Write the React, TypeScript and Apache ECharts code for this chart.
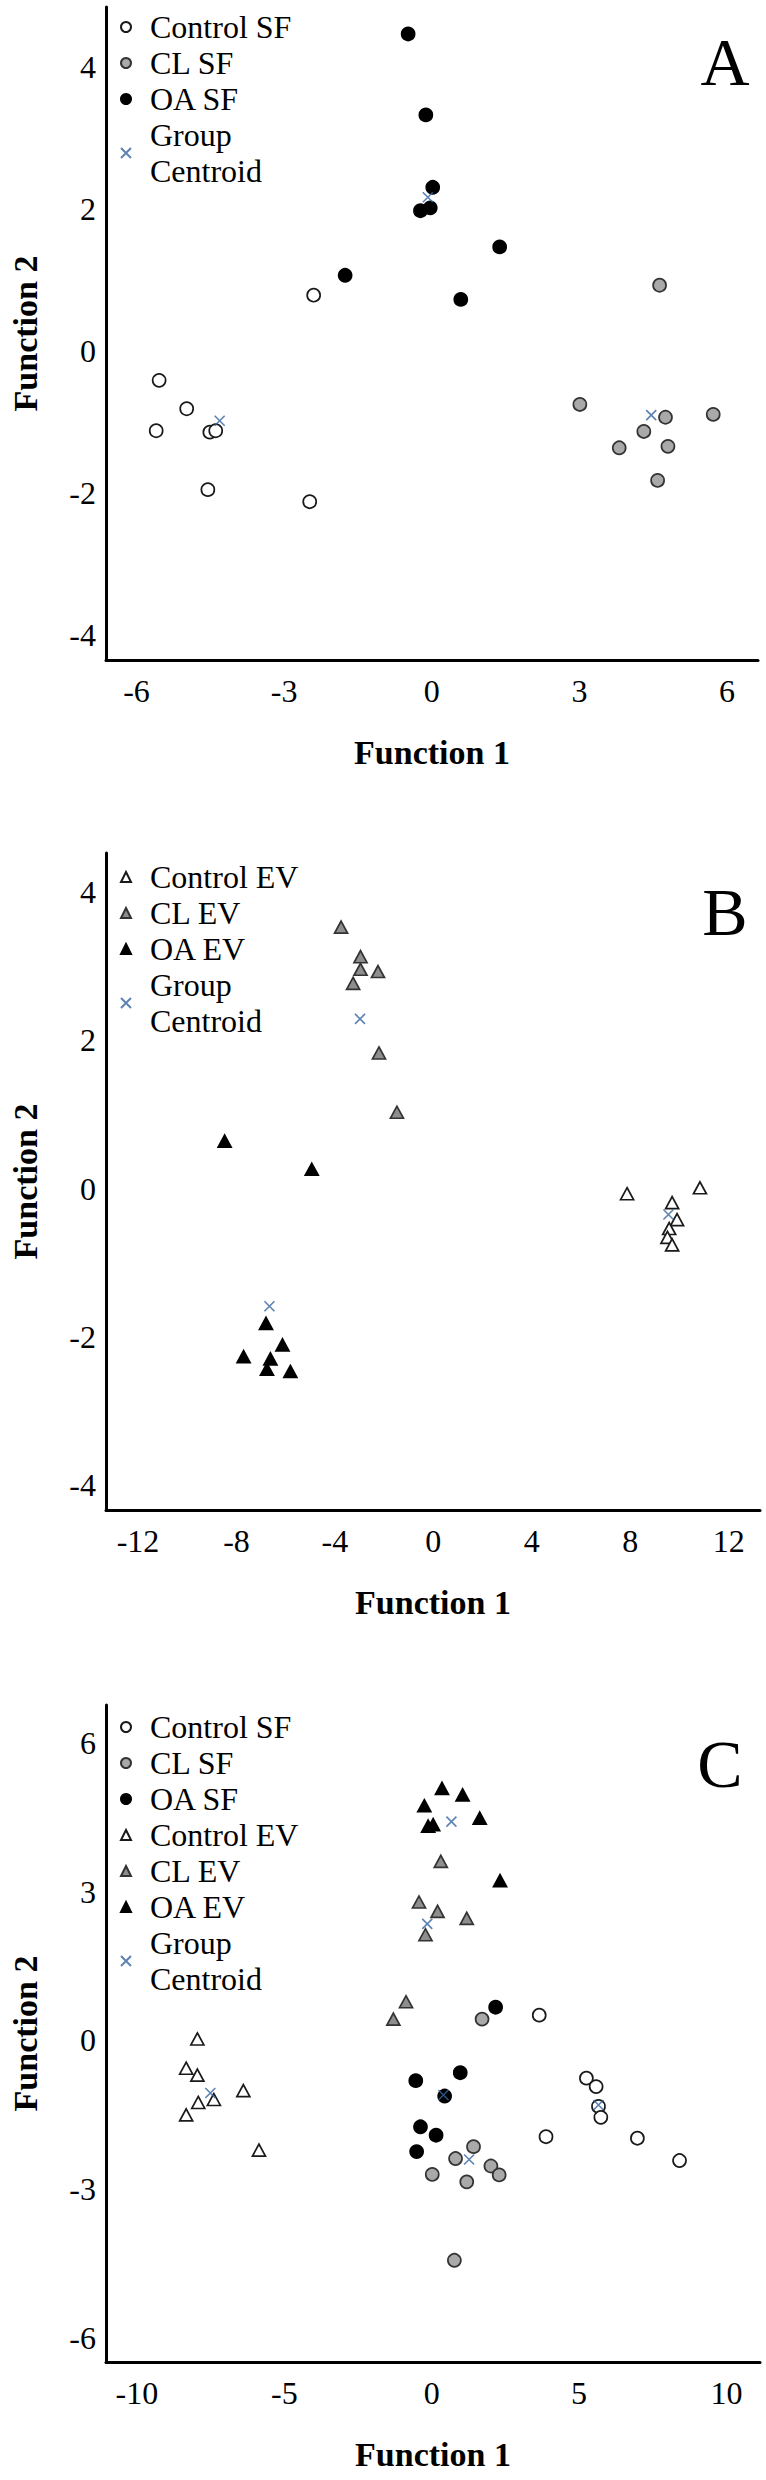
import React, { useEffect, useRef } from "react";
import * as echarts from "echarts";

type Pt = [number, number];

// ---------- Panel A (SF) ----------
const aControlSF: Pt[] = [
  [-2.4, 0.79], [-5.54, -0.41], [-4.98, -0.81], [-5.6, -1.12],
  [-4.51, -1.14], [-4.39, -1.12], [-4.55, -1.95], [-2.48, -2.12],
];
const aCLSF: Pt[] = [
  [4.63, 0.93], [3.01, -0.75], [4.75, -0.93], [5.72, -0.89],
  [4.31, -1.13], [3.81, -1.36], [4.8, -1.34], [4.59, -1.82],
];
const aOASF: Pt[] = [
  [-0.48, 4.47], [-0.12, 3.33], [0.02, 2.31], [-0.23, 1.98],
  [-0.03, 2.02], [1.38, 1.47], [-1.76, 1.07], [0.59, 0.73],
];
const aCentroids: Pt[] = [[-4.31, -0.98], [4.46, -0.9], [-0.08, 2.17]];
const aTicksX = [-6, -3, 0, 3, 6];
const aTicksY = [-4, -2, 0, 2, 4];

// ---------- Panel B (EV) ----------
const bControlEV: Pt[] = [
  [7.87, -0.07], [10.83, 0.01], [9.7, -0.19], [9.9, -0.42],
  [9.58, -0.54], [9.51, -0.66], [9.7, -0.76],
];
const bCLEV: Pt[] = [
  [-3.75, 3.53], [-2.96, 3.13], [-2.96, 2.96], [-2.25, 2.93],
  [-3.26, 2.77], [-2.21, 1.83], [-1.48, 1.03],
];
const bOAEV: Pt[] = [
  [-8.48, 0.64], [-4.94, 0.26], [-6.8, -1.82], [-6.13, -2.11],
  [-7.71, -2.27], [-6.62, -2.3], [-6.76, -2.44], [-5.81, -2.47],
];
const bCentroids: Pt[] = [[9.55, -0.35], [-2.98, 2.29], [-6.66, -1.59]];
const bTicksX = [-12, -8, -4, 0, 4, 8, 12];
const bTicksY = [-4, -2, 0, 2, 4];

// ---------- Panel C (SF + EV) ----------
const cControlSF: Pt[] = [
  [3.65, 0.51], [5.25, -0.76], [5.58, -0.93], [5.66, -1.33],
  [5.74, -1.55], [3.88, -1.94], [6.98, -1.97], [8.41, -2.42],
];
const cCLSF: Pt[] = [
  [1.71, 0.43], [1.42, -2.14], [0.81, -2.38], [2.01, -2.53],
  [2.29, -2.71], [0.02, -2.7], [1.19, -2.85], [0.77, -4.43],
];
const cOASF: Pt[] = [
  [2.17, 0.67], [-0.54, -0.81], [0.97, -0.65], [0.44, -1.12],
  [-0.38, -1.74], [0.15, -1.91], [-0.51, -2.24],
];
const cControlEV: Pt[] = [
  [-7.95, 0.03], [-8.33, -0.56], [-7.95, -0.7], [-6.39, -1.01],
  [-7.39, -1.19], [-7.92, -1.25], [-8.33, -1.5], [-5.86, -2.21],
];
const cCLEV: Pt[] = [
  [0.31, 3.61], [-0.43, 2.79], [0.2, 2.6], [1.19, 2.46],
  [-0.21, 2.13], [-0.87, 0.78], [-1.3, 0.43],
];
const cOAEV: Pt[] = [
  [0.35, 5.08], [1.05, 4.95], [-0.25, 4.73], [1.63, 4.48],
  [-0.12, 4.32], [0.05, 4.35], [2.32, 3.22],
];
const cCentroids: Pt[] = [
  [5.66, -1.3], [1.27, -2.4], [0.4, -1.1],
  [-7.51, -1.06], [-0.15, 2.35], [0.67, 4.41],
];
const cTicksX = [-10, -5, 0, 5, 10];
const cTicksY = [-6, -3, 0, 3, 6];

const legendA = ["Control SF", "CL SF", "OA SF", "Group Centroid"];
const legendB = ["Control EV", "CL EV", "OA EV", "Group Centroid"];
const legendC = ["Control SF", "CL SF", "OA SF", "Control EV", "CL EV", "OA EV", "Group Centroid"];

const FONT = "Liberation Serif";

const STY: Record<string, any> = {
  "Control SF": { symbol: "circle", size: 13, color: "#ffffff", border: "#1a1a1a" },
  "CL SF": { symbol: "circle", size: 13, color: "#a9a9a9", border: "#333333" },
  "OA SF": { symbol: "circle", size: 13, color: "#000000", border: "#000000" },
  "Control EV": { symbol: "triangle", size: [13, 12], color: "#ffffff", border: "#1a1a1a" },
  "CL EV": { symbol: "triangle", size: [13, 12], color: "#8e8e8e", border: "#333333" },
  "OA EV": { symbol: "triangle", size: [13, 12], color: "#000000", border: "#000000" },
};

const CROSS = "path://M0,0L10,10M10,0L0,10";

function scatter(name: string, data: Pt[], gi: number) {
  const s = STY[name];
  return {
    type: "scatter",
    name,
    data,
    xAxisIndex: gi,
    yAxisIndex: gi,
    symbol: s.symbol,
    symbolSize: s.size,
    itemStyle: { color: s.color, borderColor: s.border, borderWidth: 1.7, opacity: 1 },
    z: 2,
  };
}

function centroid(data: Pt[], gi: number) {
  return {
    type: "scatter",
    name: "Group Centroid",
    data,
    xAxisIndex: gi,
    yAxisIndex: gi,
    symbol: CROSS,
    symbolSize: 10,
    itemStyle: { color: "rgba(0,0,0,0)", borderColor: "#33649e", borderWidth: 1.6 },
    z: 3,
  };
}

function xAxis(gi: number, min: number, max: number, ticks: number[]) {
  return {
    type: "value",
    gridIndex: gi,
    min,
    max,
    name: "Function 1",
    nameLocation: "middle",
    nameGap: 75,
    nameTextStyle: { fontFamily: FONT, fontSize: 34, fontWeight: "bold", color: "#000" },
    axisLine: { show: true, onZero: false, lineStyle: { color: "#000", width: 3 } },
    axisTick: { show: false },
    splitLine: { show: false },
    axisLabel: { customValues: ticks, fontFamily: FONT, fontSize: 32, color: "#000", margin: 15 },
  };
}

function yAxis(gi: number, min: number, max: number, ticks: number[]) {
  return {
    type: "value",
    gridIndex: gi,
    min,
    max,
    name: "Function 2",
    nameLocation: "middle",
    nameGap: 64,
    nameTextStyle: { fontFamily: FONT, fontSize: 34, fontWeight: "bold", color: "#000" },
    axisLine: { show: true, onZero: false, lineStyle: { color: "#000", width: 3 } },
    axisTick: { show: false },
    splitLine: { show: false },
    axisLabel: { customValues: ticks, fontFamily: FONT, fontSize: 32, color: "#000", margin: 10 },
  };
}

function legend(data: string[], top: number) {
  return {
    data,
    orient: "vertical",
    left: 120,
    top,
    padding: 0,
    itemWidth: 10,
    itemHeight: 10,
    itemGap: 0,
    selectedMode: false,
    formatter: (n: string) => (n === "Group Centroid" ? "Group\nCentroid" : n),
    textStyle: {
      fontFamily: FONT,
      fontSize: 32,
      lineHeight: 36,
      color: "#000",
      padding: [0, 0, 0, 14],
    },
  };
}

function panelLetter(text: string, x: number, y: number) {
  return {
    type: "text",
    x,
    y,
    style: {
      text,
      fontFamily: FONT,
      fontSize: 68,
      fill: "#000",
      align: "center",
      verticalAlign: "middle",
    },
  };
}

export default function App() {
  const ref = useRef<HTMLDivElement>(null);
  useEffect(() => {
    if (!ref.current) return;
    const chart = echarts.init(ref.current, null, { renderer: "svg" });
    chart.setOption({
      animation: false,
      backgroundColor: "#ffffff",
      textStyle: { fontFamily: FONT },
      grid: [
        { left: 103, top: 7, width: 655, height: 653 },
        { left: 105, top: 853, width: 655, height: 657 },
        { left: 103, top: 1705, width: 657, height: 657 },
      ],
      xAxis: [
        xAxis(0, -6.62, 6.63, aTicksX),
        xAxis(1, -13.3, 13.27, bTicksX),
        xAxis(2, -11.05, 11.14, cTicksX),
      ],
      yAxis: [
        yAxis(0, -4.35, 4.85, aTicksY),
        yAxis(1, -4.34, 4.53, bTicksY),
        yAxis(2, -6.48, 6.76, cTicksY),
      ],
      legend: [legend(legendA, 9), legend(legendB, 859), legend(legendC, 1709)],
      graphic: [
        panelLetter("A", 725, 62),
        panelLetter("B", 725, 912),
        panelLetter("C", 720, 1764),
      ],
      series: [
        scatter("Control SF", aControlSF, 0),
        scatter("CL SF", aCLSF, 0),
        scatter("OA SF", aOASF, 0),
        centroid(aCentroids, 0),
        scatter("Control EV", bControlEV, 1),
        scatter("CL EV", bCLEV, 1),
        scatter("OA EV", bOAEV, 1),
        centroid(bCentroids, 1),
        scatter("Control SF", cControlSF, 2),
        scatter("CL SF", cCLSF, 2),
        scatter("OA SF", cOASF, 2),
        scatter("Control EV", cControlEV, 2),
        scatter("CL EV", cCLEV, 2),
        scatter("OA EV", cOAEV, 2),
        centroid(cCentroids, 2),
      ],
    });
    return () => chart.dispose();
  }, []);
  return (
    <div
      ref={ref}
      style={{ position: "absolute", left: 0, top: 0, width: 766, height: 2480 }}
    />
  );
}
